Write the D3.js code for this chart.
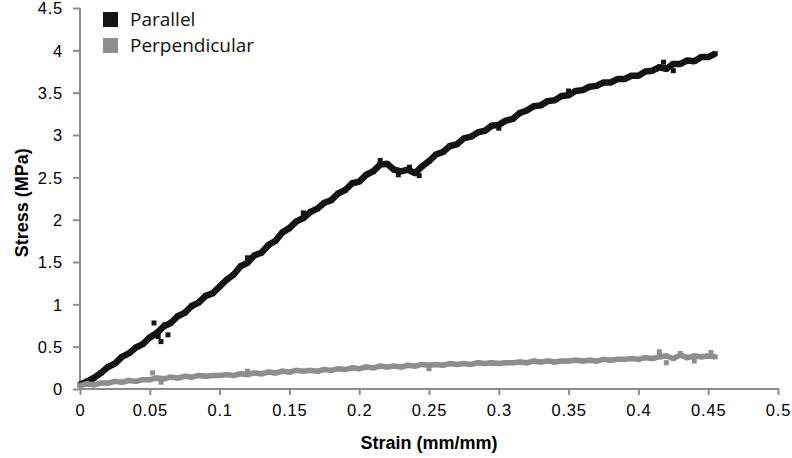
<!DOCTYPE html>
<meta charset="utf-8">
<script src="https://d3js.org/d3.v7.min.js"></script>
<style>
  body { margin: 0; background: #fff; }
</style>
<div id="chart"></div>
<script>

// strain values (mm/mm) shared by both series
const strain = [0,0.005,0.01,0.015,0.02,0.025,0.03,0.035,0.04,0.045,
  0.05,0.055,0.06,0.065,0.07,0.075,0.08,0.085,0.09,0.095,
  0.1,0.105,0.11,0.115,0.12,0.125,0.13,0.135,0.14,0.145,
  0.15,0.155,0.16,0.165,0.17,0.175,0.18,0.185,0.19,0.195,
  0.2,0.205,0.21,0.215,0.22,0.225,0.23,0.235,0.24,0.245,
  0.25,0.255,0.26,0.265,0.27,0.275,0.28,0.285,0.29,0.295,
  0.3,0.305,0.31,0.315,0.32,0.325,0.33,0.335,0.34,0.345,
  0.35,0.355,0.36,0.365,0.37,0.375,0.38,0.385,0.39,0.395,
  0.4,0.405,0.41,0.415,0.42,0.425,0.43,0.435,0.44,0.445,
  0.45,0.455];

// stress (MPa)
const parallel = [0.05,0.09,0.13,0.19,0.26,0.30,0.38,0.42,0.49,0.53,
  0.61,0.66,0.74,0.78,0.86,0.90,0.98,1.02,1.10,1.13,
  1.21,1.29,1.35,1.45,1.49,1.58,1.61,1.70,1.75,1.85,
  1.90,1.98,2.02,2.09,2.13,2.20,2.23,2.31,2.35,2.43,
  2.45,2.53,2.57,2.65,2.66,2.59,2.57,2.59,2.55,2.63,
  2.69,2.77,2.80,2.87,2.89,2.96,2.98,3.03,3.05,3.11,
  3.12,3.17,3.19,3.26,3.29,3.34,3.35,3.40,3.41,3.46,
  3.47,3.52,3.53,3.57,3.58,3.62,3.62,3.66,3.66,3.70,
  3.70,3.75,3.76,3.80,3.78,3.84,3.84,3.88,3.87,3.92,
  3.92,3.96];

const perpendicular = [0.04,0.06,0.05,0.07,0.07,0.09,0.08,0.10,0.09,0.11,
  0.11,0.13,0.12,0.14,0.13,0.15,0.14,0.16,0.15,0.16,
  0.16,0.17,0.16,0.18,0.17,0.19,0.18,0.20,0.19,0.21,
  0.20,0.22,0.21,0.22,0.21,0.23,0.22,0.24,0.23,0.25,
  0.24,0.26,0.25,0.27,0.26,0.27,0.26,0.28,0.27,0.29,
  0.28,0.29,0.28,0.30,0.29,0.30,0.29,0.31,0.30,0.31,
  0.30,0.31,0.31,0.32,0.31,0.33,0.32,0.33,0.32,0.33,
  0.33,0.34,0.33,0.34,0.33,0.35,0.34,0.35,0.35,0.36,
  0.35,0.37,0.36,0.38,0.39,0.36,0.40,0.37,0.39,0.38,
  0.39,0.38];

// a few stray readings that sit off the main band
const parallelStray = [[0.053,0.78],[0.056,0.62],[0.058,0.56],[0.061,0.76],[0.063,0.64],
  [0.12,1.55],[0.16,2.08],[0.215,2.70],[0.228,2.53],[0.236,2.62],[0.243,2.52],
  [0.3,3.08],[0.35,3.52],[0.418,3.86],[0.425,3.76]];
const perpendicularStray = [[0.052,0.19],[0.058,0.08],[0.12,0.21],[0.25,0.24],
  [0.415,0.44],[0.42,0.31],[0.43,0.42],[0.44,0.33],[0.452,0.43]];

const xTicks = [0,0.05,0.1,0.15,0.2,0.25,0.3,0.35,0.4,0.45,0.5];
const yTicks = [0,0.5,1,1.5,2,2.5,3,3.5,4,4.5];

const seriesNames = ["Parallel", "Perpendicular"];
const seriesColors = ["#141414", "#8e8e8e"];

const width = 792, height = 458;

const svg = d3.select("#chart")
  .append("svg")
    .attr("width", width)
    .attr("height", height);

const x = d3.scaleLinear().domain([0, 0.5]).range([80, 778]);
const y = d3.scaleLinear().domain([0, 4.5]).range([389, 8]);

const axisColor = "#8c8c8c";
const tickFont = "'Liberation Sans', Arial, sans-serif";

// X axis
const xAxis = svg.append("g")
  .attr("transform", `translate(0, ${y(0)})`)
  .call(d3.axisBottom(x).tickValues(xTicks).tickSize(6).tickPadding(9)
    .tickFormat(d => String(d)));
xAxis.select(".domain").attr("stroke", axisColor).attr("stroke-width", 2)
  .attr("d", `M${x(0) - 1},0H${x(0.5) + 1}`);
xAxis.selectAll(".tick line").attr("stroke", axisColor).attr("stroke-width", 2);
xAxis.selectAll(".tick text")
  .attr("fill", "#000")
  .style("font-family", tickFont)
  .style("font-size", "16.5px")
  .style("letter-spacing", "0.8px");

// Y axis
const yAxis = svg.append("g")
  .attr("transform", `translate(${x(0)}, 0)`)
  .call(d3.axisLeft(y).tickValues(yTicks).tickSize(7).tickPadding(10)
    .tickFormat(d => String(d)));
yAxis.select(".domain").attr("stroke", axisColor).attr("stroke-width", 2)
  .attr("d", `M0,${y(4.5)}V${y(0) + 1}`);
yAxis.selectAll(".tick line").attr("stroke", axisColor).attr("stroke-width", 2);
yAxis.selectAll(".tick text")
  .attr("fill", "#000")
  .attr("dy", "0.36em")
  .style("font-family", tickFont)
  .style("font-size", "16.5px")
  .style("letter-spacing", "0.8px");

// axis titles
svg.append("text")
  .attr("x", (x(0) + x(0.5)) / 2)
  .attr("y", 449)
  .attr("text-anchor", "middle")
  .style("font-family", tickFont)
  .style("font-weight", "bold")
  .style("font-size", "18px")
  .text("Strain (mm/mm)");

svg.append("text")
  .attr("transform", `translate(28, ${y(2.2)}) rotate(-90)`)
  .attr("text-anchor", "middle")
  .style("font-family", tickFont)
  .style("font-weight", "bold")
  .style("font-size", "18px")
  .text("Stress (MPa)");

// draw one series: a thick trace plus square markers
function drawSeries(values, stray, color, lineWidth) {
  const pts = strain.map((s, i) => [s, values[i]]);
  const g = svg.append("g");
  g.append("path")
    .datum(pts)
    .attr("fill", "none")
    .attr("stroke", color)
    .attr("stroke-width", lineWidth)
    .attr("stroke-linejoin", "round")
    .attr("d", d3.line().x(d => x(d[0])).y(d => y(d[1])));
  g.selectAll("rect")
    .data(pts.concat(stray))
    .enter()
    .append("rect")
      .attr("x", d => x(d[0]) - 2.5)
      .attr("y", d => y(d[1]) - 2.5)
      .attr("width", 5)
      .attr("height", 5)
      .attr("fill", color);
}

drawSeries(parallel, parallelStray, seriesColors[0], 6.5);
drawSeries(perpendicular, perpendicularStray, seriesColors[1], 5.5);

// legend
const legend = svg.append("g");
seriesNames.forEach((name, i) => {
  legend.append("rect")
    .attr("x", 103)
    .attr("y", 12 + i * 26)
    .attr("width", 15)
    .attr("height", 15)
    .attr("fill", seriesColors[i]);
  legend.append("text")
    .attr("x", 130)
    .attr("y", 26 + i * 26)
    .style("font-family", "'Open Sans', 'Noto Sans', sans-serif")
    .style("font-size", "19px")
    .attr("fill", "#111")
    .text(name);
});

</script>
